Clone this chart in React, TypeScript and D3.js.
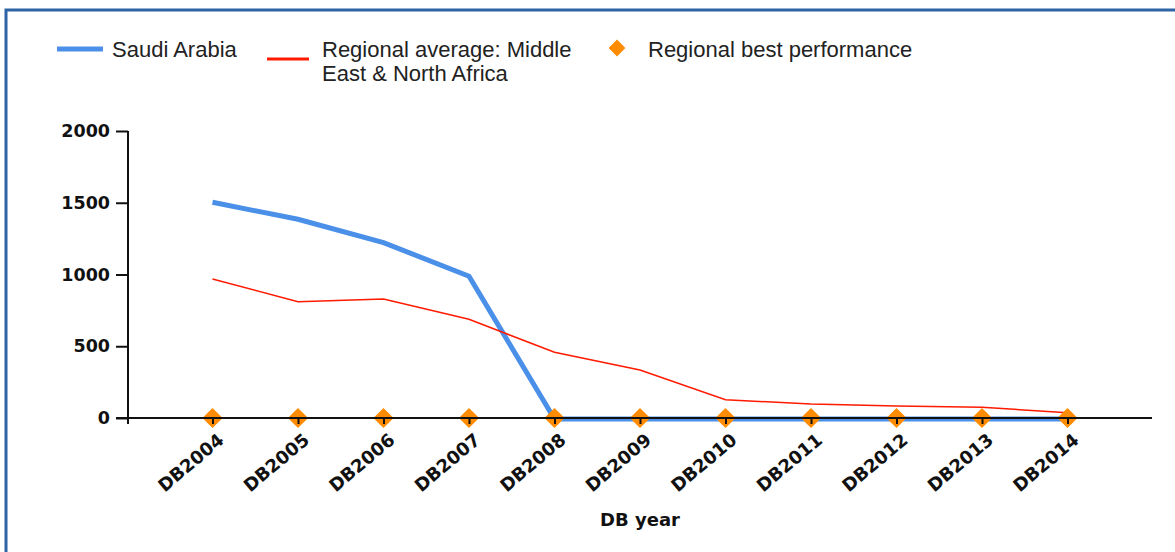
import React, { useEffect, useRef } from 'react';
import * as d3 from 'd3';

const years = ['DB2004', 'DB2005', 'DB2006', 'DB2007', 'DB2008', 'DB2009', 'DB2010', 'DB2011', 'DB2012', 'DB2013', 'DB2014'];
const saudi = [1510, 1392, 1229, 995, 0, 0, 0, 0, 0, 0, 0];
const regionalAvg = [969, 810, 829, 688, 458, 334, 128, 97, 84, 75, 37];
const regionalBest = [0, 0, 0, 0, 0, 0, 0, 0, 0, 0, 0];
const yTicks = [0, 500, 1000, 1500, 2000];

const W = 1175;
const H = 552;

export default function App() {
  const ref = useRef<SVGSVGElement>(null);

  useEffect(() => {
    const svg = d3.select(ref.current);
    svg.selectAll('*').remove();

    const x = d3.scalePoint<string>().domain(years).range([127, 1153]).padding(1);
    const y = d3.scaleLinear().domain([0, 2000]).range([418, 131]);

    // frame
    svg.append('rect')
      .attr('x', 6).attr('y', 10)
      .attr('width', W + 20).attr('height', H + 20)
      .attr('fill', 'white')
      .attr('stroke', '#2e63a6')
      .attr('stroke-width', 3);

    const line = d3.line<number>()
      .x((d, i) => x(years[i]) as number)
      .y(d => y(d));

    svg.append('path')
      .datum(regionalBest)
      .attr('fill', 'none')
      .attr('stroke', '#ff8c00')
      .attr('stroke-width', 2)
      .attr('d', line);

    svg.append('path')
      .datum(saudi)
      .attr('fill', 'none')
      .attr('stroke', '#4a8fe8')
      .attr('stroke-width', 5)
      .attr('transform', 'translate(0,1)')
      .attr('d', line);

    svg.append('path')
      .datum(regionalAvg)
      .attr('fill', 'none')
      .attr('stroke', '#ff1a00')
      .attr('stroke-width', 1.5)
      .attr('d', line);

    const diamond = d3.symbol().type(d3.symbolDiamond2).size(260);
    svg.append('g')
      .selectAll('path')
      .data(regionalBest)
      .join('path')
      .attr('d', diamond)
      .attr('transform', (d, i) => `translate(${x(years[i])},${y(d)})`)
      .attr('fill', '#ff8c00');

    // y axis
    const yAxis = svg.append('g')
      .attr('transform', 'translate(128,0)')
      .call(d3.axisLeft(y).tickValues(yTicks).tickFormat(d3.format('d')).tickSize(12).tickPadding(6));
    yAxis.select('.domain').remove();
    yAxis.append('line')
      .attr('x1', 0).attr('x2', 0)
      .attr('y1', y(2000)).attr('y2', 424)
      .attr('stroke', '#111').attr('stroke-width', 2);
    yAxis.selectAll('.tick line').attr('stroke', '#111').attr('stroke-width', 2);
    yAxis.selectAll('.tick text')
      .attr('font-family', 'DejaVu Sans')
      .attr('font-weight', 'bold')
      .attr('font-size', 17.5)
      .attr('fill', '#111');

    // x axis
    const xAxis = svg.append('g')
      .attr('transform', `translate(0,${y(0)})`)
      .call(d3.axisBottom(x).tickSize(6).tickPadding(0));
    xAxis.select('.domain').remove();
    xAxis.append('line')
      .attr('x1', 116).attr('x2', 1152)
      .attr('stroke', '#111').attr('stroke-width', 2);
    xAxis.selectAll('.tick line').attr('stroke', '#111').attr('stroke-width', 2);
    xAxis.selectAll('.tick text')
      .attr('font-family', 'DejaVu Sans')
      .attr('font-weight', 'bold')
      .attr('font-size', 18)
      .attr('fill', '#111')
      .attr('text-anchor', 'end')
      .attr('dy', null)
      .attr('y', 0)
      .attr('transform', 'translate(12,24) rotate(-40)');

    svg.append('text')
      .attr('x', 640).attr('y', 526)
      .attr('text-anchor', 'middle')
      .attr('font-family', 'DejaVu Sans')
      .attr('font-weight', 'bold')
      .attr('font-size', 18)
      .attr('fill', '#111')
      .text('DB year');

    // legend
    const lg = svg.append('g')
      .attr('font-family', 'Liberation Sans')
      .attr('font-size', 22)
      .attr('fill', '#222');
    lg.append('line').attr('x1', 57).attr('x2', 103).attr('y1', 49).attr('y2', 49)
      .attr('stroke', '#4a8fe8').attr('stroke-width', 5);
    lg.append('text').attr('x', 112).attr('y', 57).text('Saudi Arabia');
    lg.append('line').attr('x1', 267).attr('x2', 309).attr('y1', 59).attr('y2', 59)
      .attr('stroke', '#ff1a00').attr('stroke-width', 3);
    lg.append('text').attr('x', 322).attr('y', 57).text('Regional average: Middle');
    lg.append('text').attr('x', 322).attr('y', 81).text('East & North Africa');
    lg.append('path')
      .attr('d', d3.symbol().type(d3.symbolDiamond2).size(180))
      .attr('transform', 'translate(617,48)')
      .attr('fill', '#ff8c00');
    lg.append('text').attr('x', 648).attr('y', 57).text('Regional best performance');
  }, []);

  return (
    <svg ref={ref} width={W} height={H}
      style={{ position: 'absolute', left: 0, top: 0, background: 'white' }} />
  );
}
